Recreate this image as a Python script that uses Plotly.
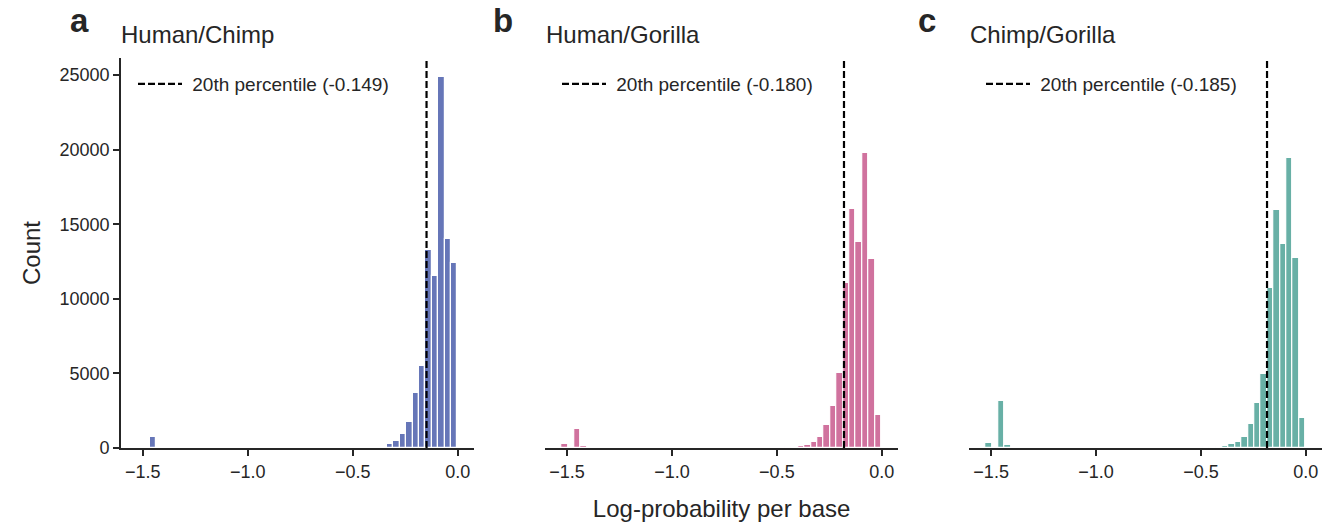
import numpy as np
import plotly.graph_objects as go

# ---------------- data ----------------
bin_start = -1.527
bin_width = 0.0305
n_bins = 50

def counts_from(d):
    c = [0] * n_bins
    for k, v in d.items():
        c[k] = v
    return c

# counts per bin index (0 = left-most bin)
counts_hc = counts_from({2: 720, 35: 15, 36: 30, 37: 55, 38: 100, 39: 250, 40: 450,
                         41: 920, 42: 1750, 43: 3690, 44: 5480, 45: 13300, 46: 11500,
                         47: 24900, 48: 14000, 49: 12400})
counts_hg = counts_from({0: 300, 2: 1280, 3: 130, 33: 15, 34: 30, 35: 50, 36: 80, 37: 110,
                         38: 225, 39: 425, 40: 720, 41: 1570, 42: 2810, 43: 5050,
                         44: 11050, 45: 15990, 46: 13790, 47: 19810, 48: 12670, 49: 2180})
counts_cg = counts_from({0: 340, 2: 3150, 3: 200, 33: 15, 34: 35, 35: 60, 36: 90, 37: 160,
                         38: 290, 39: 430, 40: 760, 41: 1640, 42: 3030, 43: 4960,
                         44: 10760, 45: 15970, 46: 13700, 47: 19450, 48: 12710, 49: 2020})

panel_titles = ["Human/Chimp", "Human/Gorilla", "Chimp/Gorilla"]
panel_letters = ["a", "b", "c"]
percentiles = [-0.149, -0.180, -0.185]
colors = ["#6676b8", "#d0729e", "#68b0a6"]
x_ticks = [-1.5, -1.0, -0.5, 0.0]
y_ticks = [0, 5000, 10000, 15000, 20000, 25000]

all_counts = [counts_hc, counts_hg, counts_cg]
centers = bin_start + bin_width * (np.arange(n_bins) + 0.5)

# ---------------- figure ----------------
W, H = 1333, 525
ml, mr, mt, mb = 121, 11, 58, 77
pw, ph = W - ml - mr, H - mt - mb

def px_x(p):
    return (p - ml) / pw

def px_y(p):
    return (H - mb - p) / ph

domains = [[px_x(121), px_x(474)], [px_x(545.3), px_x(897.9)], [px_x(969.3), px_x(1322)]]
xr = [-1.604, 0.077]
ymax = max(max(c) for c in all_counts) * 1.05
TXT = "#262626"
FONT = "Liberation Sans, Arial, sans-serif"

fig = go.Figure()
legend_names = ["legend", "legend2", "legend3"]
for i in range(3):
    xa = "x" if i == 0 else f"x{i+1}"
    ya = "y" if i == 0 else f"y{i+1}"
    fig.add_trace(go.Bar(
        x=centers, y=all_counts[i], width=bin_width,
        marker=dict(color=colors[i], line=dict(color="white", width=1.2)),
        xaxis=xa, yaxis=ya, showlegend=False, hoverinfo="skip"))
    fig.add_trace(go.Scatter(
        x=[percentiles[i], percentiles[i]], y=[0, ymax], mode="lines",
        line=dict(color="black", width=2.2, dash="7px,3px"),
        name=f"\u00a020th percentile ({percentiles[i]:.3f})",
        xaxis=xa, yaxis=ya, legend=legend_names[i], showlegend=True))

axis_common = dict(showline=True, linecolor=TXT, linewidth=1.8, ticks="outside",
                   ticklen=6, tickwidth=1.5, tickcolor=TXT, showgrid=False, zeroline=False,
                   automargin=False, tickfont=dict(family=FONT, size=18, color=TXT))
layout = dict(width=W, height=H, margin=dict(l=ml, r=mr, t=mt, b=mb, autoexpand=False),
              plot_bgcolor="white", paper_bgcolor="white", bargap=0,
              font=dict(family=FONT, color=TXT), showlegend=True)
for i in range(3):
    xk = "xaxis" if i == 0 else f"xaxis{i+1}"
    yk = "yaxis" if i == 0 else f"yaxis{i+1}"
    layout[xk] = dict(axis_common, domain=domains[i], range=xr, tickvals=x_ticks,
                      tickformat=".1f", anchor="y" if i == 0 else f"y{i+1}")
    if i == 0:
        layout[yk] = dict(axis_common, range=[0, ymax], tickvals=y_ticks, tickformat="d",
                          anchor="x", domain=[0, 1],
                          title=dict(text="Count", font=dict(family=FONT, size=24, color=TXT),
                                     standoff=12))
    else:
        layout[yk] = dict(range=[0, ymax], showline=False, showticklabels=False, ticks="",
                          showgrid=False, zeroline=False, automargin=False,
                          anchor=f"x{i+1}", domain=[0, 1])
layout["xaxis2"]["title"] = dict(text="Log-probability per base",
                                 font=dict(family=FONT, size=24, color=TXT), standoff=20)

leg_x = [133, 557, 981]
for i in range(3):
    layout[legend_names[i]] = dict(x=px_x(leg_x[i]), y=px_y(65), xanchor="left", yanchor="top",
                                   bgcolor="rgba(0,0,0,0)", borderwidth=0, itemwidth=44,
                                   font=dict(family=FONT, size=19, color=TXT))
fig.update_layout(**layout)

title_x = [121, 546, 970]
letter_x = [79, 503, 927]
for i in range(3):
    fig.add_annotation(text=panel_titles[i], x=px_x(title_x[i] - 2), y=px_y(34), xref="paper",
                       yref="paper", xanchor="left", yanchor="middle", showarrow=False,
                       font=dict(family=FONT, size=24, color=TXT))
    fig.add_annotation(text=f"<b>{panel_letters[i]}</b>", x=px_x(letter_x[i]), y=px_y(21),
                       xref="paper", yref="paper", xanchor="center", yanchor="middle",
                       showarrow=False, font=dict(family=FONT, size=33, color=TXT))

fig.write_html("out.html")
